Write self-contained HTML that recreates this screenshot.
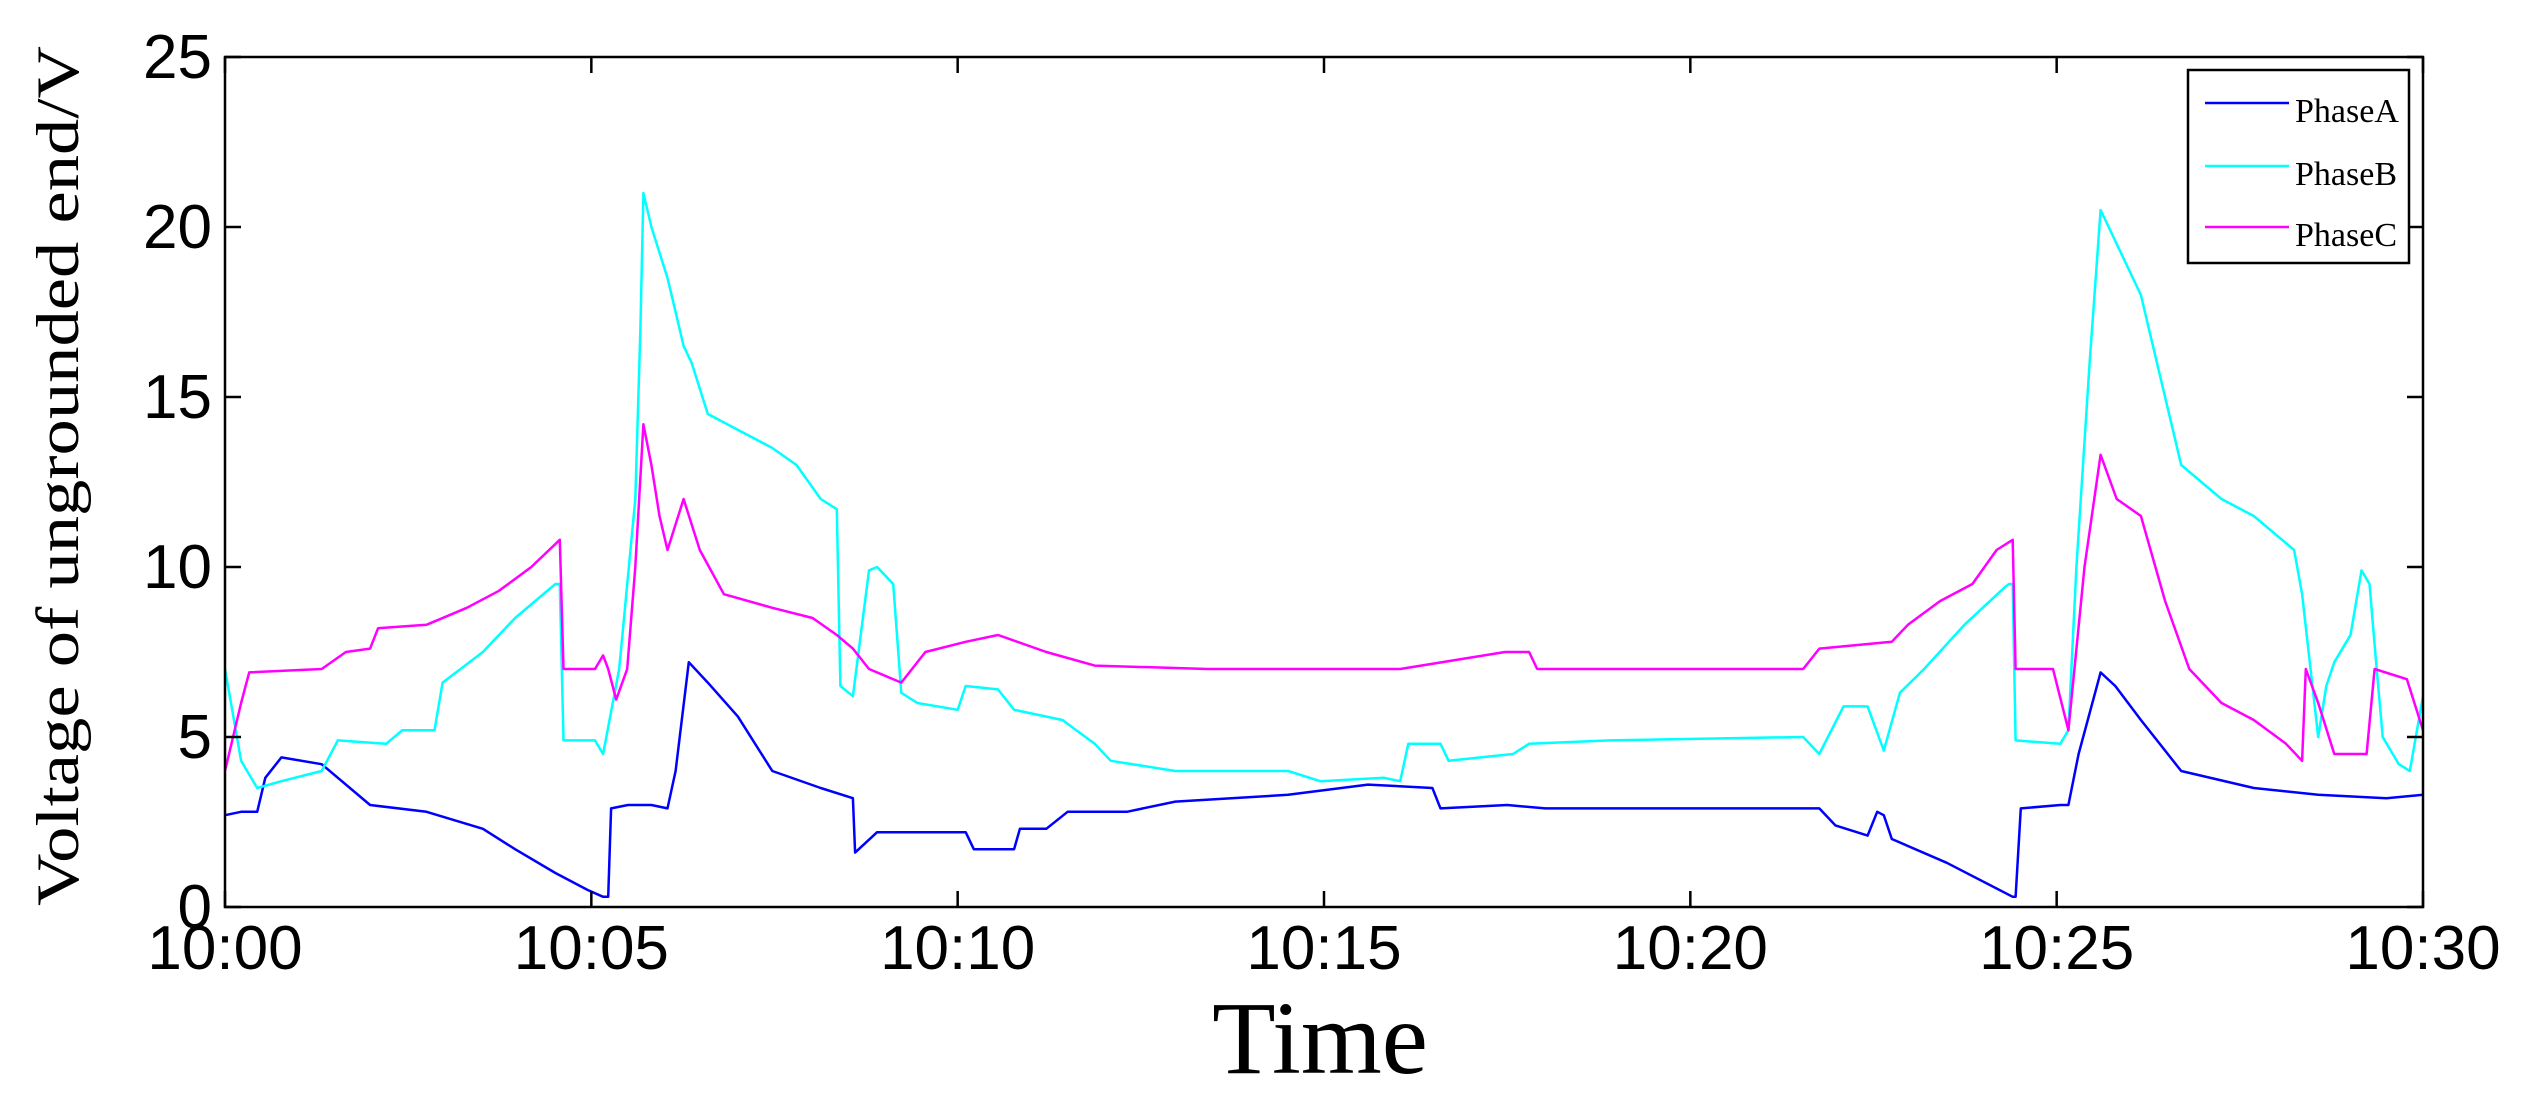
<!DOCTYPE html>
<html><head><meta charset="utf-8"><style>
html,body{margin:0;padding:0;background:#fff;}
svg{display:block;}
</style></head><body>
<svg id="chart" width="2524" height="1099" viewBox="0 0 2524 1099" xmlns="http://www.w3.org/2000/svg">
<rect width="2524" height="1099" fill="#fff"/>
<g id="series"></g>
<g id="axes"></g>
<g id="legend"></g>
</svg>
<script>
const yTicks = [0,5,10,15,20,25];
const xTickMinutes = [0,5,10,15,20,25,30];
const xTickLabels = ["10:00","10:05","10:10","10:15","10:20","10:25","10:30"];
const seriesNames = ["PhaseA","PhaseB","PhaseC"];
const seriesColors = ["#0000ff","#00ffff","#ff00ff"];

const aT = [0,0.22,0.44,0.55,0.77,1.32,1.98,2.75,3.52,3.96,4.51,4.95,5.16,5.23,5.27,5.5,5.82,6.04,6.15,6.33,6.59,7.0,7.47,8.13,8.57,8.6,8.9,9.2,10.11,10.22,10.77,10.85,11.21,11.5,12.31,12.97,14.51,15.6,16.48,16.59,17.5,18.02,21.76,21.98,22.42,22.55,22.64,22.75,23.5,24.4,24.44,24.51,25.05,25.16,25.3,25.6,25.8,26.15,26.7,27.69,28.57,29.5,30];
const aV = [2.7,2.8,2.8,3.8,4.4,4.2,3.0,2.8,2.3,1.7,1.0,0.5,0.3,0.3,2.9,3.0,3.0,2.9,4.0,7.2,6.6,5.6,4.0,3.5,3.2,1.6,2.2,2.2,2.2,1.7,1.7,2.3,2.3,2.8,2.8,3.1,3.3,3.6,3.5,2.9,3.0,2.9,2.9,2.4,2.1,2.8,2.7,2.0,1.3,0.3,0.3,2.9,3.0,3.0,4.5,6.9,6.5,5.5,4.0,3.5,3.3,3.2,3.3];

const bT = [0,0.22,0.44,0.77,1.32,1.54,2.2,2.42,2.86,2.97,3.52,3.96,4.51,4.57,4.62,5.05,5.16,5.38,5.6,5.67,5.71,5.82,6.04,6.15,6.26,6.37,6.59,7.47,7.8,8.13,8.35,8.4,8.57,8.79,8.9,9.12,9.23,9.45,10.0,10.11,10.55,10.77,11.43,11.87,12.09,12.97,14.51,14.95,15.82,16.04,16.15,16.59,16.7,17.58,17.8,18.9,21.54,21.76,22.09,22.42,22.64,22.86,23.19,23.74,24.29,24.35,24.4,24.44,25.05,25.16,25.27,25.45,25.6,25.93,26.15,26.37,26.7,27.25,27.69,28.24,28.35,28.57,28.68,28.79,29.01,29.16,29.27,29.36,29.45,29.67,29.82,30];
const bV = [7.0,4.3,3.5,3.7,4.0,4.9,4.8,5.2,5.2,6.6,7.5,8.5,9.5,9.5,4.9,4.9,4.5,7.0,12.0,17.0,21.0,20.0,18.5,17.5,16.5,16.0,14.5,13.5,13.0,12.0,11.7,6.5,6.2,9.9,10.0,9.5,6.3,6.0,5.8,6.5,6.4,5.8,5.5,4.8,4.3,4.0,4.0,3.7,3.8,3.7,4.8,4.8,4.3,4.5,4.8,4.9,5.0,4.5,5.9,5.9,4.6,6.3,7.0,8.3,9.4,9.5,9.5,4.9,4.8,5.2,10.0,16.0,20.5,19.0,18.0,16.0,13.0,12.0,11.5,10.5,9.2,5.0,6.5,7.2,8.0,9.9,9.5,7.2,5.0,4.2,4.0,6.2];

const cT = [0,0.22,0.33,1.32,1.65,1.98,2.09,2.75,3.3,3.74,4.18,4.57,4.62,5.05,5.16,5.23,5.34,5.49,5.6,5.71,5.82,5.93,6.04,6.26,6.48,6.81,7.47,8.02,8.35,8.57,8.79,9.23,9.56,10.11,10.55,11.21,11.87,13.41,16.04,17.47,17.8,17.91,21.54,21.76,22.75,22.97,23.41,23.85,24.18,24.4,24.44,24.95,25.16,25.38,25.6,25.82,26.15,26.48,26.81,27.25,27.69,28.13,28.35,28.4,28.57,28.79,29.23,29.34,29.78,30];
const cV = [4.0,6.0,6.9,7.0,7.5,7.6,8.2,8.3,8.8,9.3,10.0,10.8,7.0,7.0,7.4,7.0,6.1,7.0,10.0,14.2,13.0,11.5,10.5,12.0,10.5,9.2,8.8,8.5,8.0,7.6,7.0,6.6,7.5,7.8,8.0,7.5,7.1,7.0,7.0,7.5,7.5,7.0,7.0,7.6,7.8,8.3,9.0,9.5,10.5,10.8,7.0,7.0,5.2,10.0,13.3,12.0,11.5,9.0,7.0,6.0,5.5,4.8,4.3,7.0,6.0,4.5,4.5,7.0,6.7,5.2];

const L=225, R=2423, T=57, B=907;
const xs = m => L + (R-L)*m/30;
const ys = v => B - (B-T)*v/25;
const NS="http://www.w3.org/2000/svg";
function mk(tag, attrs, parent){const e=document.createElementNS(NS,tag);for(const k in attrs)e.setAttribute(k,attrs[k]);parent.appendChild(e);return e;}

const sg=document.getElementById('series');
[[aT,aV],[bT,bV],[cT,cV]].forEach((s,i)=>{
  const d=s[0].map((t,j)=>(j?'L':'M')+xs(t).toFixed(1)+' '+ys(s[1][j]).toFixed(1)).join(' ');
  const p=mk('path',{d:d,fill:'none',stroke:seriesColors[i],'stroke-width':2.5,'stroke-linejoin':'round'},sg);
  
  
});

const ag=document.getElementById('axes');
const frame=mk('rect',{x:L,y:T,width:R-L,height:B-T,fill:'none',stroke:'#000','stroke-width':2.5},ag);


yTicks.forEach(v=>{
  const y=ys(v);
  mk('line',{x1:L,x2:L+16,y1:y,y2:y,stroke:'#000','stroke-width':2.5},ag);
  mk('line',{x1:R,x2:R-16,y1:y,y2:y,stroke:'#000','stroke-width':2.5},ag);
  const t=mk('text',{x:212,y:y+21,'text-anchor':'end','font-family':'Liberation Sans, sans-serif','font-size':62},ag);
  t.textContent=v;
  
  
});
xTickMinutes.forEach((m,i)=>{
  const x=xs(m);
  mk('line',{x1:x,x2:x,y1:B,y2:B-16,stroke:'#000','stroke-width':2.5},ag);
  mk('line',{x1:x,x2:x,y1:T,y2:T+16,stroke:'#000','stroke-width':2.5},ag);
  const t=mk('text',{x:x,y:969,'text-anchor':'middle','font-family':'Liberation Sans, sans-serif','font-size':62},ag);
  t.textContent=xTickLabels[i];
  
  
});
const xt=mk('text',{x:1320,y:1073,'text-anchor':'middle','font-family':'Liberation Serif, serif','font-size':104},ag);
xt.textContent='Time';


const yt=mk('text',{x:0,y:0,'text-anchor':'middle','font-family':'Liberation Serif, serif','font-size':60,transform:'translate(78,476) rotate(-90)',textLength:860,lengthAdjust:'spacingAndGlyphs'},ag);
yt.textContent='Voltage of ungrounded end/V';



const lg=document.getElementById('legend');
const box=mk('rect',{x:2188,y:70,width:221,height:193,fill:'#fff',stroke:'#000','stroke-width':2.5},lg);


const ly=[103,166,227];
seriesNames.forEach((n,i)=>{
  const g=mk('g',{},lg);
  
  
  mk('line',{x1:2205,x2:2289,y1:ly[i],y2:ly[i],stroke:seriesColors[i],'stroke-width':2.5},g);
  const t=mk('text',{x:2295,y:ly[i]+19,'font-family':'Liberation Serif, serif','font-size':34},g);
  t.textContent=n;
});
</script>
</body></html>
